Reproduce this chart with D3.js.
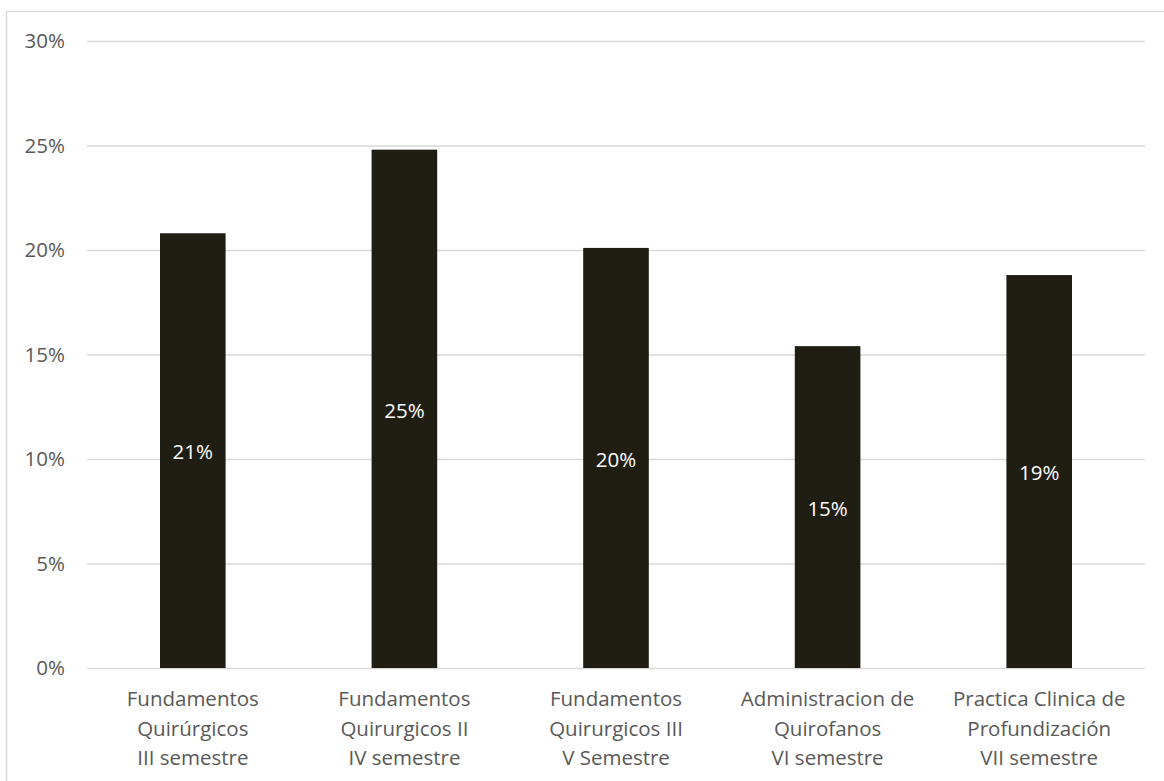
<!DOCTYPE html>
<html>
<head>
<meta charset="utf-8">
<script src="https://cdn.jsdelivr.net/npm/d3@7"></script>
<style>
  html, body { margin: 0; padding: 0; background: #fff; }
  svg { display: block; }
  text { font-family: "Open Sans", "Noto Sans", sans-serif; }
</style>
</head>
<body>
<svg id="chart" width="1164" height="781"></svg>
<script>
// Share of students per course
const categories = [
  ["Fundamentos", "Quirúrgicos", "III semestre"],
  ["Fundamentos", "Quirurgicos II", "IV semestre"],
  ["Fundamentos", "Quirurgicos III", "V Semestre"],
  ["Administracion de", "Quirofanos", "VI semestre"],
  ["Practica Clinica de", "Profundización", "VII semestre"]
];
const values = [0.208, 0.248, 0.201, 0.154, 0.188];
const yTicks = [0, 0.05, 0.10, 0.15, 0.20, 0.25, 0.30];

const W = 1164, H = 781;
const plot = { left: 87, right: 1145, top: 41, bottom: 668 };
const fontSize = 20.5;
const textColor = "#595959";
const barColor = "#201d12";
const gridColor = "#d9d9d9";

const svg = d3.select("#chart");

// outer chart frame (runs past the right and bottom edges)
svg.append("rect")
  .attr("x", 6.5).attr("y", 11.5)
  .attr("width", 1170).attr("height", 780)
  .attr("fill", "none")
  .attr("stroke", gridColor)
  .attr("stroke-width", 1.5);

const keys = categories.map((c, i) => i);
const x = d3.scaleBand()
  .domain(keys)
  .range([plot.left, plot.right])
  .paddingInner(0.69)
  .paddingOuter(0.345);

const y = d3.scaleLinear()
  .domain([0, 0.30])
  .range([plot.bottom, plot.top]);

const pct = d3.format(".0%");

// horizontal gridlines with left tick labels
const yAxis = d3.axisLeft(y)
  .tickValues(yTicks)
  .tickFormat(pct)
  .tickSize(-(plot.right - plot.left))
  .tickPadding(22);

const gy = svg.append("g")
  .attr("transform", `translate(${plot.left},0)`)
  .call(yAxis);
gy.select(".domain").remove();
gy.selectAll(".tick line")
  .attr("stroke", gridColor)
  .attr("stroke-width", 1.5);
gy.selectAll(".tick text")
  .attr("fill", textColor)
  .attr("font-size", fontSize)
  .attr("font-family", "'Open Sans', 'Noto Sans', sans-serif");

// bars
svg.append("g").selectAll("rect")
  .data(values)
  .join("rect")
  .attr("x", (d, i) => x(i))
  .attr("y", d => y(d))
  .attr("width", x.bandwidth())
  .attr("height", d => y(0) - y(d))
  .attr("fill", barColor);

// value labels centred in each bar
svg.append("g").selectAll("text")
  .data(values)
  .join("text")
  .attr("x", (d, i) => x(i) + x.bandwidth() / 2)
  .attr("y", d => (y(d) + y(0)) / 2 + 1.5)
  .attr("dy", "0.35em")
  .attr("text-anchor", "middle")
  .attr("fill", "#ffffff")
  .attr("font-size", fontSize)
  .text(d => pct(d));

// category labels, three lines each
const lineGap = 29.5;
const gx = svg.append("g").selectAll("text")
  .data(categories)
  .join("text")
  .attr("text-anchor", "middle")
  .attr("fill", textColor)
  .attr("font-size", fontSize)
  .attr("transform", (d, i) => `translate(${x(i) + x.bandwidth() / 2},706)`);
gx.selectAll("tspan")
  .data(d => d)
  .join("tspan")
  .attr("x", 0)
  .attr("y", (d, j) => j * lineGap)
  .text(d => d);
</script>
</body>
</html>
